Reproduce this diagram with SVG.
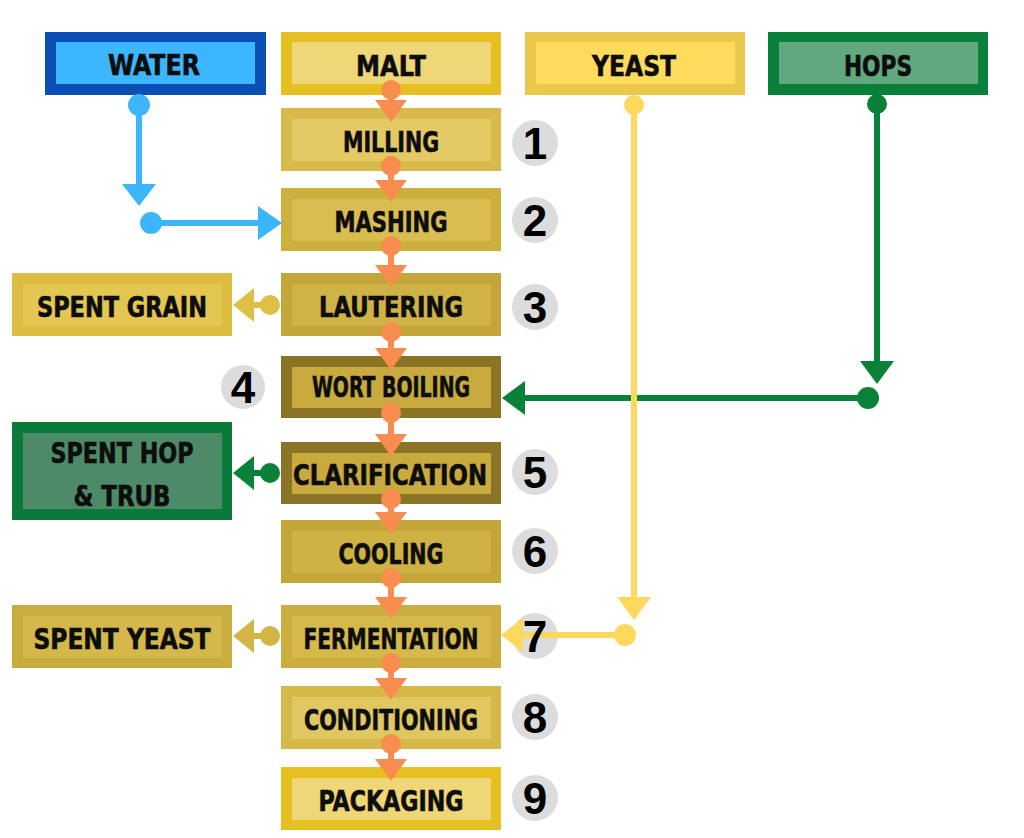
<svg xmlns="http://www.w3.org/2000/svg" width="1024" height="838" viewBox="0 0 1024 838">
<style>
.lbl{font-family:'DejaVu Sans Condensed','DejaVu Sans',sans-serif;font-stretch:condensed;font-weight:bold;font-size:29px;fill:#0d0d0d;stroke:#0d0d0d;stroke-width:0.6px;text-anchor:middle}
.num{font-family:'Liberation Sans',Arial,sans-serif;font-weight:bold;font-size:44px;fill:#000;text-anchor:middle}
.ncirc{fill:#dcdcdc}
.or{stroke:#f98d4f;fill:#f98d4f}
</style>
<rect width="1024" height="838" fill="#ffffff"/>

<g id="numcircles">
<circle class="ncirc" cx="535" cy="143" r="23"/>
<circle class="ncirc" cx="535" cy="220" r="23"/>
<circle class="ncirc" cx="535" cy="307" r="23"/>
<circle class="ncirc" cx="243" cy="387" r="22"/>
<circle class="ncirc" cx="535" cy="472" r="23"/>
<circle class="ncirc" cx="535" cy="551" r="23"/>
<circle class="ncirc" cx="535" cy="636" r="23"/>
<circle class="ncirc" cx="535" cy="717" r="23"/>
<circle class="ncirc" cx="535" cy="798" r="23"/>
</g>

<g id="water"><rect x="45" y="32" width="221" height="63" fill="#0a50b4"/><rect x="56" y="42" width="199" height="42" fill="#3bb6ff"/><text class="lbl" x="154" y="75" textLength="92" lengthAdjust="spacingAndGlyphs">WATER</text></g>
<g id="malt"><rect x="281" y="32" width="220" height="63" fill="#e6c021"/><rect x="292" y="42" width="199" height="42" fill="#efd676"/><text class="lbl" x="391" y="76" textLength="70" lengthAdjust="spacingAndGlyphs">MALT</text></g>
<g id="yeast"><rect x="525" y="32" width="220" height="63" fill="#eac84c"/><rect x="536" y="42" width="199" height="42" fill="#fddb5c"/><text class="lbl" x="634" y="76" textLength="84" lengthAdjust="spacingAndGlyphs">YEAST</text></g>
<g id="hops"><rect x="768" y="32" width="220" height="63" fill="#087f3a"/><rect x="779" y="42" width="199" height="42" fill="#62a87f"/><text class="lbl" x="878" y="76" textLength="68" lengthAdjust="spacingAndGlyphs">HOPS</text></g>

<g id="milling"><rect x="281" y="108" width="220" height="63" fill="#d8ba4a"/><rect x="292" y="119" width="199" height="42" fill="#e4ca64"/><text class="lbl" x="391" y="152" textLength="96" lengthAdjust="spacingAndGlyphs">MILLING</text></g>
<g id="mashing"><rect x="281" y="188" width="220" height="63" fill="#cdaf3c"/><rect x="292" y="199" width="199" height="42" fill="#d9bd51"/><text class="lbl" x="391" y="232" textLength="113" lengthAdjust="spacingAndGlyphs">MASHING</text></g>
<g id="lautering"><rect x="281" y="273" width="220" height="63" fill="#c3a53a"/><rect x="292" y="284" width="199" height="42" fill="#d0b346"/><text class="lbl" x="391" y="317" textLength="144" lengthAdjust="spacingAndGlyphs">LAUTERING</text></g>
<g id="wort-boiling"><rect x="281" y="356" width="220" height="62" fill="#8b7426"/><rect x="292" y="367" width="199" height="41" fill="#c8aa3e"/><text class="lbl" x="391" y="397" font-size="25" textLength="158" lengthAdjust="spacingAndGlyphs">WORT BOILING</text></g>
<g id="clarification"><rect x="281" y="442" width="220" height="62" fill="#8b7426"/><rect x="292" y="453" width="199" height="41" fill="#c8aa3e"/><text class="lbl" x="390" y="485" textLength="194" lengthAdjust="spacingAndGlyphs">CLARIFICATION</text></g>
<g id="cooling"><rect x="281" y="520" width="220" height="63" fill="#c3a53a"/><rect x="292" y="531" width="199" height="42" fill="#cfb244"/><text class="lbl" x="391" y="564" textLength="105" lengthAdjust="spacingAndGlyphs">COOLING</text></g>
<g id="fermentation"><rect x="281" y="605" width="220" height="63" fill="#cbae3e"/><rect x="292" y="616" width="199" height="42" fill="#d6b94b"/><text class="lbl" x="391" y="649" textLength="175" lengthAdjust="spacingAndGlyphs">FERMENTATION</text></g>
<g id="conditioning"><rect x="281" y="686" width="220" height="63" fill="#d6b848"/><rect x="292" y="697" width="199" height="42" fill="#e1c762"/><text class="lbl" x="391" y="730" textLength="174" lengthAdjust="spacingAndGlyphs">CONDITIONING</text></g>
<g id="packaging"><rect x="281" y="767" width="220" height="63" fill="#e6c021"/><rect x="292" y="778" width="199" height="42" fill="#efd676"/><text class="lbl" x="391" y="811" textLength="145" lengthAdjust="spacingAndGlyphs">PACKAGING</text></g>

<g id="spent-grain"><rect x="12" y="273" width="220" height="63" fill="#dcbd42"/><rect x="23" y="284" width="199" height="42" fill="#e4c652"/><text class="lbl" x="122" y="317" textLength="170" lengthAdjust="spacingAndGlyphs">SPENT GRAIN</text></g>
<g id="spent-hop-trub"><rect x="12" y="422" width="220" height="98" fill="#0a7a3a"/><rect x="23" y="433" width="199" height="76" fill="#4d8a67"/><text class="lbl" x="122" y="463" textLength="143" lengthAdjust="spacingAndGlyphs">SPENT HOP</text><text class="lbl" x="122" y="506" textLength="97" lengthAdjust="spacingAndGlyphs">&amp; TRUB</text></g>
<g id="spent-yeast"><rect x="12" y="605" width="220" height="63" fill="#c9ac3f"/><rect x="23" y="616" width="199" height="42" fill="#d4b84b"/><text class="lbl" x="122" y="649" textLength="177" lengthAdjust="spacingAndGlyphs">SPENT YEAST</text></g>

<g id="connectors">
<g class="or" stroke-width="6">
<circle cx="391" cy="90" r="10" stroke="none"/><line x1="391" y1="90" x2="391" y2="102"/><polygon points="375,100 407,100 391,122" stroke="none"/>
<circle cx="391" cy="166" r="10" stroke="none"/><line x1="391" y1="166" x2="391" y2="182"/><polygon points="375,180 407,180 391,202" stroke="none"/>
<circle cx="391" cy="246" r="10" stroke="none"/><line x1="391" y1="246" x2="391" y2="267"/><polygon points="375,265 407,265 391,287" stroke="none"/>
<circle cx="391" cy="332" r="10" stroke="none"/><line x1="391" y1="332" x2="391" y2="350"/><polygon points="375,348 407,348 391,370" stroke="none"/>
<circle cx="391" cy="413" r="10" stroke="none"/><line x1="391" y1="413" x2="391" y2="436"/><polygon points="375,434 407,434 391,456" stroke="none"/>
<circle cx="391" cy="499" r="10" stroke="none"/><line x1="391" y1="499" x2="391" y2="514"/><polygon points="375,512 407,512 391,534" stroke="none"/>
<circle cx="391" cy="578" r="10" stroke="none"/><line x1="391" y1="578" x2="391" y2="599"/><polygon points="375,597 407,597 391,619" stroke="none"/>
<circle cx="391" cy="663" r="10" stroke="none"/><line x1="391" y1="663" x2="391" y2="680"/><polygon points="375,678 407,678 391,700" stroke="none"/>
<circle cx="391" cy="744" r="10" stroke="none"/><line x1="391" y1="744" x2="391" y2="761"/><polygon points="375,759 407,759 391,781" stroke="none"/>
</g>
<g fill="#3db5fb" stroke="#3db5fb" stroke-width="6">
<circle cx="139" cy="105" r="11" stroke="none"/><line x1="139" y1="105" x2="139" y2="186"/><polygon points="122,184 156,184 139,206" stroke="none"/>
<circle cx="151" cy="223" r="11" stroke="none"/><line x1="151" y1="223" x2="260" y2="223"/><polygon points="258,206 258,240 282,223" stroke="none"/>
</g>
<g fill="#0a8139" stroke="#0a8139" stroke-width="6">
<circle cx="877" cy="104" r="10" stroke="none"/><line x1="877" y1="104" x2="877" y2="363"/><polygon points="860,361 894,361 877,384" stroke="none"/>
<circle cx="868" cy="398" r="11" stroke="none"/><line x1="868" y1="398" x2="523" y2="398"/><polygon points="525,381 525,415 502,398" stroke="none"/>
</g>
<g fill="#fcd95c" stroke="#fcd95c" stroke-width="6">
<circle cx="634" cy="105" r="10" stroke="none"/><line x1="634" y1="105" x2="634" y2="599"/><polygon points="617,597 651,597 634,620" stroke="none"/>
<circle cx="625" cy="635" r="11" stroke="none"/><line x1="625" y1="635" x2="521" y2="635"/><polygon points="523,618 523,652 501,635" stroke="none"/>
</g>
<g fill="#dfc046" stroke="#dfc046" stroke-width="6">
<circle cx="270" cy="305" r="10" stroke="none"/><line x1="270" y1="305" x2="252" y2="305"/><polygon points="254,288 254,322 233,305" stroke="none"/>
</g>
<g fill="#0a8139" stroke="#0a8139" stroke-width="6">
<circle cx="270" cy="473" r="10" stroke="none"/><line x1="270" y1="473" x2="252" y2="473"/><polygon points="254,456 254,490 233,473" stroke="none"/>
</g>
<g fill="#d3b545" stroke="#d3b545" stroke-width="6">
<circle cx="270" cy="636" r="10" stroke="none"/><line x1="270" y1="636" x2="252" y2="636"/><polygon points="254,619 254,653 233,636" stroke="none"/>
</g>
</g>

<g id="step-numbers">
<text class="num" x="535" y="159">1</text>
<text class="num" x="535" y="236">2</text>
<text class="num" x="535" y="323">3</text>
<text class="num" x="243" y="403">4</text>
<text class="num" x="535" y="488">5</text>
<text class="num" x="535" y="567">6</text>
<text class="num" x="535" y="652">7</text>
<text class="num" x="535" y="733">8</text>
<text class="num" x="535" y="814">9</text>
</g>
</svg>
